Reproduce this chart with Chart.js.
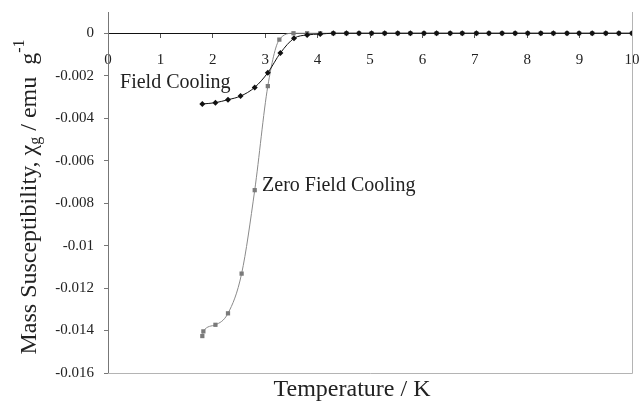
<!DOCTYPE html>
<html>
<head>
<meta charset="utf-8">
<script src="https://cdn.jsdelivr.net/npm/chart.js@4/dist/chart.umd.min.js"></script>
<style>
  html, body { margin: 0; padding: 0; background: #fff; }
  canvas { display: block; }
</style>
</head>
<body>
<canvas id="chart" width="639" height="404"></canvas>
<script>
(function () {
  // Field cooling (black diamonds)
  const fcTemps = [1.80, 2.05, 2.29, 2.53, 2.80, 3.05, 3.29, 3.55, 3.80,
    4.05, 4.30, 4.55, 4.79, 5.03, 5.28, 5.53, 5.77, 6.03, 6.27, 6.53, 6.76, 7.03, 7.27,
    7.52, 7.77, 8.01, 8.26, 8.50, 8.76, 8.99, 9.24, 9.50, 9.75, 10.0];
  const fcValues = [-0.00333, -0.00327, -0.00313, -0.00296, -0.00255, -0.00186, -0.00093, -0.00024, -0.00008,
    -0.00004, 0, 0, 0, 0, 0, 0, 0, 0, 0, 0, 0, 0, 0,
    0, 0, 0, 0, 0, 0, 0, 0, 0, 0, 0];

  // Zero field cooling (grey squares)
  const zfcTemps = [1.80, 1.82, 2.05, 2.29, 2.55, 2.80, 3.05, 3.27, 3.54, 3.80,
    4.05, 4.30, 4.55, 4.79, 5.03, 5.28, 5.53, 5.77, 6.03, 6.27, 6.53, 6.76, 7.03, 7.27,
    7.52, 7.77, 8.01, 8.26, 8.50, 8.76, 8.99, 9.24, 9.50, 9.75, 10.0];
  const zfcValues = [-0.01426, -0.01404, -0.01373, -0.01319, -0.01132, -0.00739, -0.00249, -0.00030, 0, 0,
    0, 0, 0, 0, 0, 0, 0, 0, 0, 0, 0, 0, 0, 0,
    0, 0, 0, 0, 0, 0, 0, 0, 0, 0, 0];

  const xTicks = [0, 1, 2, 3, 4, 5, 6, 7, 8, 9, 10];
  const yTicks = [-0.016, -0.014, -0.012, -0.01, -0.008, -0.006, -0.004, -0.002, 0];

  const serif = '"Liberation Serif", "Times New Roman", serif';
  const ink = '#222';

  const pts = (xs, ys) => xs.map((x, i) => ({ x: x, y: ys[i] }));

  // axis titles, series labels and the grey plot border
  const decor = {
    id: 'decor',
    beforeDatasetsDraw(chart) {
      const { ctx, chartArea: a } = chart;
      ctx.save();
      ctx.strokeStyle = '#b4b4b4';
      ctx.lineWidth = 1;
      ctx.beginPath();
      ctx.moveTo(a.left, a.bottom + 0.5);
      ctx.lineTo(a.right + 0.5, a.bottom + 0.5);
      ctx.lineTo(a.right + 0.5, a.top);
      ctx.stroke();
      ctx.restore();
    },
    afterDraw(chart) {
      const { ctx, scales } = chart;
      ctx.save();
      ctx.fillStyle = ink;
      ctx.textBaseline = 'middle';

      // series labels
      ctx.font = '20px ' + serif;
      ctx.textAlign = 'left';
      ctx.fillText('Field Cooling', scales.x.getPixelForValue(0.23), scales.y.getPixelForValue(-0.00234));
      ctx.fillText('Zero Field Cooling', scales.x.getPixelForValue(2.94), scales.y.getPixelForValue(-0.00716));

      // x title
      ctx.font = '24px ' + serif;
      ctx.textAlign = 'center';
      ctx.fillText('Temperature / K', 352, 390);

      // y title with sub/superscripts
      const parts = [
        ['Mass Susceptibility, \u03c7', 24, 0],
        ['g', 16, 6],
        [' / emu  g', 24, 0],
        ['-1', 16, -10]
      ];
      let total = 0;
      parts.forEach(p => { ctx.font = p[1] + 'px ' + serif; total += ctx.measureText(p[0]).width; });
      ctx.translate(30, 197);
      ctx.rotate(-Math.PI / 2);
      ctx.textAlign = 'left';
      let cx = -total / 2;
      parts.forEach(p => {
        ctx.font = p[1] + 'px ' + serif;
        ctx.fillText(p[0], cx, p[2]);
        cx += ctx.measureText(p[0]).width;
      });
      ctx.restore();
    }
  };

  new Chart(document.getElementById('chart'), {
    type: 'line',
    data: {
      datasets: [{
        label: 'Field Cooling',
        data: pts(fcTemps, fcValues),
        borderColor: '#111',
        backgroundColor: '#111',
        borderWidth: 1,
        pointStyle: 'rectRot',
        pointRadius: 3,
        pointBorderWidth: 0,
        cubicInterpolationMode: 'monotone'
      }, {
        label: 'Zero Field Cooling',
        data: pts(zfcTemps, zfcValues),
        borderColor: '#8a8a8a',
        backgroundColor: '#7a7a7a',
        borderWidth: 1,
        pointStyle: 'rect',
        pointRadius: 3,
        pointBorderWidth: 0,
        cubicInterpolationMode: 'monotone'
      }]
    },
    options: {
      responsive: false,
      animation: false,
      layout: { padding: { left: 0, right: 7, top: 12, bottom: 31 } },
      plugins: { legend: { display: false }, tooltip: { enabled: false } },
      scales: {
        x: {
          type: 'linear',
          position: { y: 0 },
          min: 0,
          max: 10,
          afterFit: s => { s.paddingLeft = 0; s.paddingRight = 0; },
          afterBuildTicks: s => { s.ticks = xTicks.map(v => ({ value: v })); },
          border: { display: true, color: '#111', width: 1 },
          grid: { drawOnChartArea: false, drawTicks: true, tickLength: 4, color: '#555' },
          ticks: {
            color: ink,
            padding: 14,
            maxRotation: 0,
            font: { family: serif, size: 15 },
            callback: v => String(v)
          }
        },
        y: {
          type: 'linear',
          position: 'left',
          min: -0.016,
          max: 0.001,
          afterFit: s => { s.width = 108; s.paddingTop = 0; s.paddingBottom = 0; },
          afterBuildTicks: s => { s.ticks = yTicks.map(v => ({ value: v })); },
          border: { display: true, color: '#777', width: 1 },
          grid: { drawOnChartArea: false, drawTicks: true, tickLength: 4, color: '#777' },
          ticks: {
            color: ink,
            padding: 10,
            font: { family: serif, size: 15 },
            callback: v => String(+Number(v).toFixed(3))
          }
        }
      }
    },
    plugins: [decor]
  });
})();
</script>
</body>
</html>
